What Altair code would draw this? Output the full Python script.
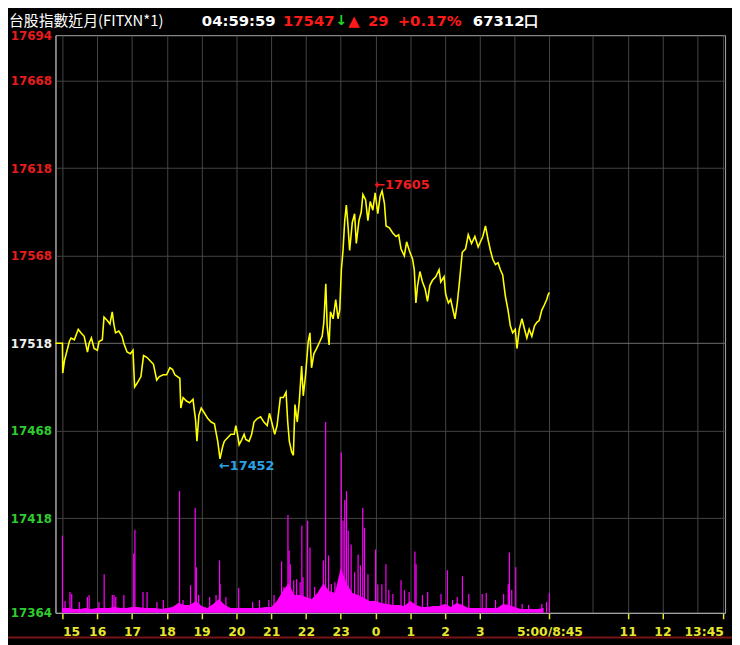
import altair as alt
import pandas as pd

# ---------------- data ----------------
# timeline in minutes: 0 = 15:00 (night session) ... 840 = 05:00 == 08:45 (day session) ... 1140 = 13:45
price_t = [
    -12, 0, 0.5, 3.4, 11.9, 14.8, 20.5, 27.3, 31.8, 37.5,
    43.2, 46.1, 50, 54.6, 60.3, 63.1, 68.8, 71.7, 77.3, 81.9,
    85.9, 88.7, 91.6, 97.2, 102.9, 105.8, 111.5, 117.2, 121.7, 124.5,
    128.5, 135.4, 139.9, 145.6, 151.3, 157, 162.6, 167.2, 174, 179.7,
    185.4, 190, 193.9, 202.5, 204.2, 208.1, 213.8, 219.5, 225.2, 229.7,
    232, 235.4, 239.4, 245.1, 250.8, 256.5, 262.2, 265, 267.9, 271.8,
    276.4, 279.2, 284.9, 290.6, 296.3, 299.1, 302, 304.8, 309.4, 313.4,
    316.2, 321.9, 326.4, 330.4, 336.1, 341.8, 347.5, 353.2, 357.1, 361.7,
    366.2, 370.2, 375.9, 381.1, 385.7, 388.6, 391.4, 395.4, 398.3, 401.1,
    405.1, 408.6, 412.6, 415.4, 419.4, 424, 426.9, 429.7, 433.7, 438.3,
    444, 448, 450.9, 454.3, 456.6, 460, 462.3, 466.9, 471.4, 475.4,
    478.3, 481.1, 484, 486.9, 489.7, 492.6, 495.4, 500, 504, 506.9,
    511.4, 515.4, 518.3, 522.9, 526.9, 530.9, 535.4, 539.4, 544, 548,
    551.4, 555.4, 558.3, 564, 569.7, 575.4, 580, 584, 589.7, 593.7,
    598.3, 604, 606.9, 609.7, 612.6, 616.6, 621.1, 625.7, 629.7, 633.7,
    638.3, 644, 649.7, 652.6, 658.3, 661.1, 665.7, 669.7, 673.7, 677.1,
    681.1, 685.1, 689.7, 695.4, 700, 705.7, 711.4, 717.1, 721.1, 725.1,
    729.7, 734.3, 738.3, 742.3, 746.9, 751.4, 755.4, 759.4, 764, 768.6,
    772.6, 776.6, 781.1, 784, 788, 792.6, 797.1, 801.1, 805.1, 809.7,
    814.3, 818.3, 822.3, 826.9, 831.4, 835.4, 838, 840,
]
price_v = [
    17518, 17518, 17501, 17508, 17519, 17521, 17520, 17526, 17524, 17522,
    17513, 17518, 17521, 17515, 17514, 17519, 17520, 17533, 17531, 17529,
    17536, 17529, 17524, 17525, 17522, 17518, 17513, 17512, 17514, 17493,
    17495, 17499, 17511, 17510, 17508, 17506, 17497, 17499, 17500, 17500,
    17504, 17503, 17500, 17498, 17481, 17487, 17485, 17484, 17486, 17474,
    17462, 17477, 17481, 17478, 17475, 17473, 17472, 17467, 17462, 17452,
    17459, 17462, 17464, 17466, 17466, 17471, 17466, 17460, 17463, 17466,
    17463, 17462, 17466, 17473, 17475, 17476, 17473, 17471, 17478, 17472,
    17466, 17471, 17487, 17487, 17490, 17473, 17462, 17456, 17454, 17483,
    17473, 17485, 17505, 17488, 17500, 17519, 17524, 17504, 17512, 17515,
    17519, 17522, 17530, 17552, 17528, 17517, 17536, 17532, 17543, 17532,
    17537, 17560, 17571, 17588, 17597, 17585, 17571, 17587, 17592, 17575,
    17588, 17593, 17603, 17600, 17588, 17599, 17594, 17604, 17592, 17602,
    17605, 17598, 17585, 17584, 17581, 17579, 17580, 17572, 17568, 17576,
    17571, 17566, 17560, 17541, 17551, 17559, 17553, 17549, 17542, 17551,
    17554, 17556, 17560, 17553, 17556, 17546, 17541, 17543, 17537, 17532,
    17541, 17554, 17570, 17572, 17580, 17575, 17579, 17573, 17576, 17579,
    17585, 17577, 17571, 17566, 17563, 17564, 17560, 17557, 17545, 17537,
    17528, 17524, 17526, 17515, 17526, 17532, 17526, 17521, 17526, 17522,
    17528, 17530, 17531, 17537, 17540, 17543, 17546, 17547,
]

# volume: background level per 10-minute bin (contracts)
vol_t = list(range(0, 840, 10))
vol_base = [
    25, 25, 20, 20, 25, 20, 25, 25, 25, 30,
    25, 25, 30, 30, 25, 25, 25, 20, 25, 30,
    50, 40, 40, 60, 35, 25, 45, 70, 40, 25,
    25, 25, 25, 25, 25, 30, 30, 60, 110, 150,
    90, 90, 80, 70, 100, 150, 110, 100, 225, 150,
    100, 90, 75, 60, 60, 50, 45, 40, 40, 35,
    60, 40, 30, 30, 35, 35, 45, 30, 50, 40,
    25, 25, 25, 25, 25, 25, 45, 40, 30, 20,
    20, 20, 20, 25,
]
# volume spikes (minute, contracts)
spike_t = [
    0, 4.5, 13, 16, 29, 43, 46, 63, 72, 86, 89, 92, 106, 123, 125, 139, 146,
    163, 174, 202, 208, 221, 229, 231, 235, 254, 265, 271, 272, 282, 304, 328,
    340, 356, 365, 378, 382, 389, 391, 393, 399, 404, 410, 413, 415, 423, 427,
    435, 450, 454, 459, 464, 470, 481, 484, 487, 490, 493, 498, 504, 510, 514,
    518, 521, 527, 540, 544, 551, 558, 563, 570, 584, 590, 598, 608, 610, 621,
    630, 653, 664, 673, 681, 690, 701, 724, 731, 747, 761, 769, 771, 775, 782,
    793, 804, 827, 835, 840,
]
spike_v = [
    390, 60, 105, 95, 55, 80, 90, 55, 195, 90, 90, 80, 90, 300, 420, 105, 105,
    55, 65, 615, 65, 140, 530, 230, 90, 80, 90, 265, 145, 80, 125, 55,
    65, 65, 90, 260, 130, 495, 315, 245, 165, 170, 155, 440, 180, 465, 330,
    130, 265, 965, 290, 145, 155, 810, 465, 570, 615, 415, 345, 205, 295, 240,
    530, 430, 195, 320, 145, 145, 245, 115, 95, 165, 115, 105, 310, 245, 90,
    105, 95, 215, 65, 80, 185, 95, 95, 100, 65, 95, 145, 305, 115, 230,
    45, 40, 45, 55, 100,
]

ann_t = [271.8, 551.4]
ann_p = [17452, 17605]
ann_text = ["←17452", "←17605"]
ann_color = ["#2aa3e6", "#f01c1c"]

prev_close = 17518
y_ticks = [17364, 17418, 17468, 17518, 17568, 17618, 17668, 17694]
x_ticks = [0, 60, 120, 180, 240, 300, 360, 420, 480, 540, 600, 660, 720, 840, 975, 1035, 1140]
x_labels = ["15", "16", "17", "18", "19", "20", "21", "22", "23", "0", "1", "2", "3",
            "5:00/8:45", "11", "12", "13:45"]
x_grid_only = [780, 915, 1095]

header_text = ["台股指數近月(FITXN*1)", "04:59:59", "17547", "↓", "▲", "29", "+0.17%", "67312口"]
header_color = ["#ffffff", "#ffffff", "#ff1a1a", "#22dd22", "#ff1a1a", "#ff1a1a", "#ff1a1a", "#ffffff"]

# ---------------- layout / style ----------------
W, H = 677, 584
PAGE_MARGIN = 8
PLOT_LEFT, PLOT_TOP = 56, 32          # plot area position on the page
PAD_L, PAD_T = PLOT_LEFT - PAGE_MARGIN, PLOT_TOP - PAGE_MARGIN
X_DOMAIN = [-12, 1143]
RED, GREEN, WHITE, YEL = "#e81c1c", "#2ecc2e", "#f0f0f0", "#e6e62e"
GRID = "#454545"

header_x = [9, 204, 286, 339, 352, 372, 402, 478]          # page px
header_font = ["Noto Sans CJK TC"] + ["DejaVu Sans"] * 7
header_size = [15, 15, 15, 14, 15, 15, 15, 15]
header_weight = ["normal"] + ["bold"] * 7
HEADER_Y = 17.5                                             # page px (text middle)

label_expr = "".join(f"datum.value == {v} ? '{l}' : " for v, l in zip(x_ticks, x_labels)) + "''"
grid_vals = sorted(x_ticks + x_grid_only)
hide_test = "indexof([" + ",".join(str(v) for v in x_grid_only) + "], datum.value) >= 0"

x_axis = alt.Axis(
    values=grid_vals, labelExpr=label_expr, title=None,
    grid=True, gridColor=GRID, gridWidth=1,
    ticks=True, tickSize=6, tickColor=YEL, tickWidth=1.5,
    tickOpacity={"condition": {"test": hide_test, "value": 0}, "value": 1},
    labelColor=YEL, labelFont="DejaVu Sans", labelFontWeight="bold", labelFontSize=12.5,
    labelPadding=7, labelFlush=False, labelOverlap=False, labelBound=False,
    labelAlign={"condition": [{"test": f"datum.value == {x_ticks[0]}", "value": "left"},
                              {"test": f"datum.value == {x_ticks[-1]}", "value": "right"}],
                "value": "center"},
    domainColor="#a8a8a8", domainWidth=1,
)
x_scale = alt.Scale(domain=X_DOMAIN, nice=False, zero=False)

y_axis = alt.Axis(
    values=y_ticks, title=None, ticks=False, labelPadding=4, format="d",
    labelFont="DejaVu Sans", labelFontWeight="bold", labelFontSize=12,
    labelColor={"condition": [{"test": f"datum.value > {prev_close}", "value": RED},
                              {"test": f"datum.value < {prev_close}", "value": GREEN}],
                "value": WHITE},
    grid=True,
    gridColor={"condition": {"test": f"datum.value == {prev_close}", "value": "#6e6e6e"}, "value": GRID},
    gridOpacity={"condition": {"test": f"datum.value == {y_ticks[0]} || datum.value == {y_ticks[-1]}", "value": 0},
                 "value": 1},
    labelFlush=False, labelOverlap=False, labelBound=False,
    domainColor="#a8a8a8", domainWidth=1,
)
y_scale = alt.Scale(domain=[y_ticks[0], y_ticks[-1]], nice=False, zero=False)
vol_scale = alt.Scale(domain=[0, 2920], nice=False, zero=True)

X = alt.X("t:Q", scale=x_scale, axis=x_axis)

price_df = pd.DataFrame({"t": price_t, "p": price_v})
base_df = pd.DataFrame({"t": vol_t, "v": vol_base})
spike_df = pd.DataFrame({"t": spike_t, "v": spike_v})

vol_area = alt.Chart(base_df).mark_area(color="#ff00ff", interpolate="linear").encode(
    x=X, y=alt.Y("v:Q", scale=vol_scale, axis=None))
vol_rules = alt.Chart(spike_df).mark_rule(color="#ff00ff", strokeWidth=1.2).encode(
    x=X, y=alt.Y("v:Q", scale=vol_scale, axis=None), y2=alt.datum(0))
vol_layer = alt.layer(vol_area, vol_rules)

line = alt.Chart(price_df).mark_line(color="#ffff00", strokeWidth=1.6).encode(
    x=X, y=alt.Y("p:Q", scale=y_scale, axis=y_axis))

ann_layers = []
ann_offsets = [(-1, 7), (-8, -6.5)]
for i in range(len(ann_t)):
    d = pd.DataFrame({"t": [ann_t[i]], "p": [ann_p[i]], "s": [ann_text[i]]})
    ann_layers.append(
        alt.Chart(d).mark_text(align="left", baseline="middle", font="DejaVu Sans",
                               fontWeight="bold", fontSize=13, color=ann_color[i],
                               dx=ann_offsets[i][0], dy=ann_offsets[i][1]).encode(
            x=X, y=alt.Y("p:Q", scale=y_scale, axis=y_axis), text="s:N"))

head_layers = []
for i in range(len(header_text)):
    head_layers.append(
        alt.Chart(alt.Data(values=[{"k": 0}])).mark_text(
            align="left", baseline="middle", font=header_font[i], fontSize=header_size[i],
            fontWeight=header_weight[i], color=header_color[i]).encode(
            x=alt.value(header_x[i] - PLOT_LEFT), y=alt.value(HEADER_Y - PLOT_TOP),
            text=alt.value(header_text[i])))

bottom_bar = alt.Chart(alt.Data(values=[{"k": 0}])).mark_rule(color="#7a1414", strokeWidth=2).encode(
    x=alt.value(-PAD_L), x2=alt.value(740 - PLOT_LEFT), y=alt.value(641 - PLOT_TOP))

price_layer = alt.layer(line, *ann_layers, *head_layers, bottom_bar)

chart = alt.layer(vol_layer, price_layer).resolve_scale(y="independent").properties(
    width=W, height=H,
    autosize=alt.AutoSizeParams(type="none"),
    padding={"left": PAD_L, "top": PAD_T, "right": 740 - PLOT_LEFT - W, "bottom": 645 - PLOT_TOP - H},
    background="#000000",
).configure_view(stroke="#a8a8a8", strokeWidth=1)

chart.save("out.html", embed_options={"renderer": "svg", "actions": False})
